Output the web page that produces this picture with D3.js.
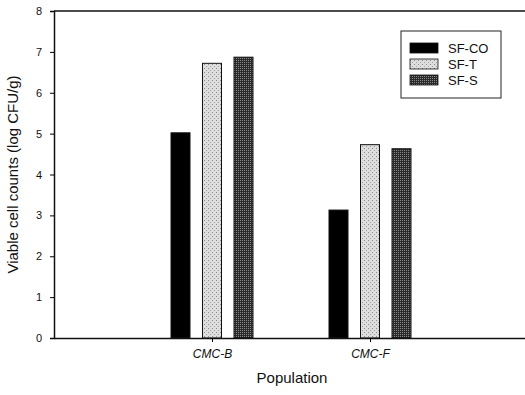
<!DOCTYPE html>
<html>
<head>
<meta charset="utf-8">
<script src="https://cdn.jsdelivr.net/npm/d3@7"></script>
<style>
  body { margin: 0; background: #fff; }
  svg { font-family: "Liberation Sans", Arial, sans-serif; }
</style>
</head>
<body>
<div id="chart"></div>
<script>
const populations = ['CMC-B', 'CMC-F'];
const seriesNames = ['SF-CO', 'SF-T', 'SF-S'];
const sfCO = [5.02, 3.13];
const sfT = [6.72, 4.73];
const sfS = [6.87, 4.63];
const yTicks = [0, 1, 2, 3, 4, 5, 6, 7, 8];

const seriesValues = [sfCO, sfT, sfS];
const fills = ['#000', 'url(#light)', 'url(#dark)'];

const width = 525, height = 395;
const margin = { top: 11, right: -3, bottom: 57, left: 54 };

const svg = d3.select('#chart').append('svg')
  .attr('width', width)
  .attr('height', height);

// stipple patterns for the grey bars
const defs = svg.append('defs');
const light = defs.append('pattern').attr('id', 'light')
  .attr('width', 4).attr('height', 4).attr('patternUnits', 'userSpaceOnUse');
light.append('rect').attr('width', 4).attr('height', 4).attr('fill', '#dedede');
light.append('rect').attr('x', 0).attr('y', 0).attr('width', 1).attr('height', 1).attr('fill', '#888');
light.append('rect').attr('x', 2).attr('y', 2).attr('width', 1).attr('height', 1).attr('fill', '#a0a0a0');

const dark = defs.append('pattern').attr('id', 'dark')
  .attr('width', 2).attr('height', 2).attr('patternUnits', 'userSpaceOnUse');
dark.append('rect').attr('width', 2).attr('height', 2).attr('fill', '#2a2a2a');
dark.append('rect').attr('x', 0).attr('y', 0).attr('width', 1).attr('height', 1).attr('fill', '#8a8a8a');

const x = d3.scalePoint()
  .domain(populations)
  .range([margin.left, width - margin.right])
  .padding(1);

const y = d3.scaleLinear()
  .domain([0, 8])
  .range([height - margin.bottom, margin.top]);

const barW = 19, step = 31.5;

// bars
seriesValues.forEach((vals, s) => {
  svg.append('g').selectAll('rect')
    .data(vals)
    .enter().append('rect')
    .attr('x', (d, i) => x(populations[i]) + (s - 1) * step - barW / 2)
    .attr('y', d => y(d))
    .attr('width', barW)
    .attr('height', d => y(0) - y(d))
    .attr('fill', fills[s])
    .attr('stroke', '#111')
    .attr('stroke-width', 1);
});

// top border
svg.append('line')
  .attr('x1', margin.left).attr('x2', width - margin.right)
  .attr('y1', y(8)).attr('y2', y(8))
  .attr('stroke', '#111').attr('stroke-width', 1.5);

// axes
const yAxis = svg.append('g')
  .attr('transform', `translate(${margin.left},0)`)
  .call(d3.axisLeft(y).tickValues(yTicks).tickFormat(d3.format('d')).tickSize(4).tickPadding(8));
yAxis.select('.domain').attr('stroke', '#111').attr('stroke-width', 1.5);
yAxis.selectAll('text').attr('font-size', 11).attr('fill', '#111');

const xAxis = svg.append('g')
  .attr('transform', `translate(0,${y(0)})`)
  .call(d3.axisBottom(x).tickSize(4).tickSizeOuter(0).tickPadding(7));
xAxis.select('.domain').attr('stroke', '#111').attr('stroke-width', 1.5);
xAxis.selectAll('text').attr('font-size', 12).attr('font-style', 'italic').attr('fill', '#111');

// axis titles
svg.append('text')
  .attr('transform', `translate(18,${(y(0) + y(8)) / 2}) rotate(-90)`)
  .attr('text-anchor', 'middle')
  .attr('font-size', 15)
  .attr('fill', '#111')
  .text('Viable cell counts (log CFU/g)');

svg.append('text')
  .attr('x', 292).attr('y', 383)
  .attr('text-anchor', 'middle')
  .attr('font-size', 15)
  .attr('fill', '#111')
  .text('Population');

// legend
const legend = svg.append('g').attr('transform', 'translate(401,31)');
legend.append('rect')
  .attr('width', 100).attr('height', 67)
  .attr('fill', '#fff').attr('stroke', '#222').attr('stroke-width', 1);
seriesNames.forEach((name, s) => {
  const row = legend.append('g').attr('transform', `translate(9,${17 + s * 16})`);
  row.append('rect')
    .attr('x', 0).attr('y', -5).attr('width', 28).attr('height', 10)
    .attr('fill', fills[s]).attr('stroke', '#111').attr('stroke-width', 0.8);
  row.append('text')
    .attr('x', 38).attr('y', 0).attr('dy', '0.35em')
    .attr('font-size', 13).attr('fill', '#111')
    .text(name);
});
</script>
</body>
</html>
